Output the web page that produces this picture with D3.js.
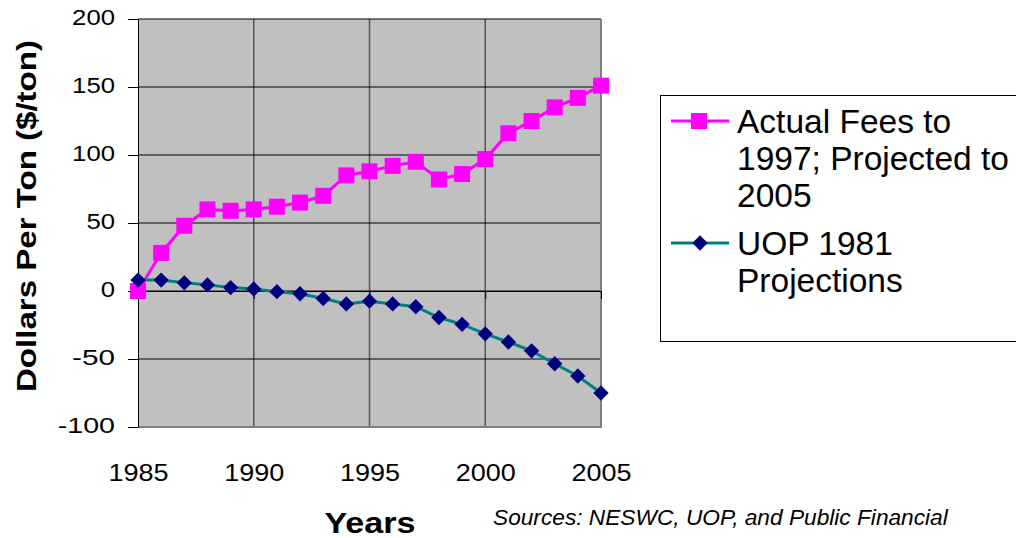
<!DOCTYPE html>
<html>
<head>
    <meta charset="utf-8">
    <script src="https://d3js.org/d3.v7.min.js"></script>
    <style>
        body { margin: 0; background: #fff; }
        text { font-family: "Liberation Sans", Arial, sans-serif; fill: #000; }
    </style>
</head>
<body>
<div id="chart"></div>

<script>
    // data
    var years = [1985, 1986, 1987, 1988, 1989, 1990, 1991, 1992, 1993, 1994, 1995,
                 1996, 1997, 1998, 1999, 2000, 2001, 2002, 2003, 2004, 2005];
    var actualFees = [0, 28, 48, 60, 59, 60, 62, 65, 70, 85, 88,
                      92, 95, 82, 86, 97, 116, 125, 135, 142, 151];
    var uopProjections = [8, 8, 6, 4.5, 2.5, 1.5, -0.5, -2, -5.5, -9.5, -7.5,
                          -9.5, -11.5, -19.5, -24.5, -31.5, -37.5, -44, -53.5, -62.5, -75];
    var yTicks = [-100, -50, 0, 50, 100, 150, 200];
    var xTicks = [1985, 1990, 1995, 2000, 2005];
    var seriesNames = [["Actual Fees to", "1997; Projected to", "2005"], ["UOP 1981", "Projections"]];

    var width = 1016, height = 538;
    var plot = { left: 138, right: 601, top: 19, bottom: 427 };

    var svg = d3.select("#chart").append("svg")
        .attr("width", width)
        .attr("height", height);

    var x = d3.scaleLinear().domain([1985, 2005]).range([plot.left, plot.right]);
    var y = d3.scaleLinear().domain([-100, 200]).range([plot.bottom, plot.top]);

    // plot area
    svg.append("rect")
        .attr("x", plot.left).attr("y", plot.top)
        .attr("width", plot.right - plot.left).attr("height", plot.bottom - plot.top)
        .attr("fill", "#c0c0c0");

    // vertical grid (gray)
    svg.append("g").selectAll("line")
        .data(xTicks.slice(1, -1))
        .enter().append("line")
        .attr("x1", function(d) { return x(d); }).attr("x2", function(d) { return x(d); })
        .attr("y1", plot.top).attr("y2", plot.bottom)
        .attr("stroke", "#555").attr("stroke-width", 1.5);

    // horizontal grid (black)
    svg.append("g").selectAll("line")
        .data(yTicks.filter(function(d) { return d > -100; }))
        .enter().append("line")
        .attr("x1", plot.left).attr("x2", plot.right)
        .attr("y1", function(d) { return y(d); }).attr("y2", function(d) { return y(d); })
        .attr("stroke", "#000").attr("stroke-width", 1);

    // right + bottom border
    svg.append("path")
        .attr("d", "M" + plot.right + "," + plot.top + "V" + plot.bottom + "H" + plot.left)
        .attr("fill", "none").attr("stroke", "#808080").attr("stroke-width", 2);

    // y axis
    var yAxis = svg.append("g")
        .attr("transform", "translate(" + plot.left + ",0)")
        .call(d3.axisLeft(y).tickValues(yTicks).tickSize(10).tickPadding(13).tickSizeOuter(0)
            .tickFormat(function(d) { return String(d); }));
    yAxis.select(".domain").attr("stroke", "#000");
    yAxis.selectAll("line").attr("stroke", "#000");
    yAxis.selectAll("text")
        .attr("font-size", 22).attr("dy", "0.25em")
        .attr("font-family", "Liberation Sans, Arial, sans-serif")
        .attr("textLength", function(d) { return String(d).length * 14.3; })
        .attr("lengthAdjust", "spacingAndGlyphs");

    // x axis through zero with ticks
    var xAxis = svg.append("g")
        .attr("transform", "translate(0," + y(0) + ")")
        .call(d3.axisBottom(x).tickValues(xTicks).tickSize(8).tickSizeOuter(0).tickFormat(""));
    xAxis.select(".domain").attr("stroke", "#000");
    xAxis.selectAll("line").attr("stroke", "#000");

    // x tick labels below the plot
    var xLabels = svg.append("g")
        .attr("transform", "translate(0," + plot.bottom + ")")
        .call(d3.axisBottom(x).tickValues(xTicks).tickSize(0).tickFormat(d3.format("d")));
    xLabels.select(".domain").remove();
    xLabels.selectAll("text")
        .attr("font-size", 24).attr("y", 54).attr("dy", 0)
        .attr("font-family", "Liberation Sans, Arial, sans-serif")
        .attr("textLength", 60)
        .attr("lengthAdjust", "spacingAndGlyphs");

    var line = d3.line()
        .x(function(d) { return x(d[0]); })
        .y(function(d) { return y(d[1]); });

    var fees = years.map(function(yr, i) { return [yr, actualFees[i]]; });
    var uop = years.map(function(yr, i) { return [yr, uopProjections[i]]; });

    // actual fees
    svg.append("path").datum(fees)
        .attr("d", line).attr("fill", "none")
        .attr("stroke", "#ff00ff").attr("stroke-width", 3);
    svg.append("g").selectAll("rect")
        .data(fees).enter().append("rect")
        .attr("x", function(d) { return x(d[0]) - 8; })
        .attr("y", function(d) { return y(d[1]) - 8; })
        .attr("width", 16).attr("height", 16)
        .attr("fill", "#ff00ff");

    // UOP projections
    var diamond = d3.symbol().type(d3.symbolDiamond2).size(150);
    svg.append("path").datum(uop)
        .attr("d", line).attr("fill", "none")
        .attr("stroke", "#008080").attr("stroke-width", 3);
    svg.append("g").selectAll("path")
        .data(uop).enter().append("path")
        .attr("d", diamond)
        .attr("transform", function(d) { return "translate(" + x(d[0]) + "," + y(d[1]) + ")"; })
        .attr("fill", "#000080");

    // axis titles
    svg.append("text")
        .attr("transform", "translate(36,216) rotate(-90)")
        .attr("text-anchor", "middle")
        .attr("font-size", 28).attr("font-weight", "bold")
        .attr("textLength", 352).attr("lengthAdjust", "spacingAndGlyphs")
        .text("Dollars Per Ton ($/ton)");

    svg.append("text")
        .attr("x", 370).attr("y", 533)
        .attr("text-anchor", "middle")
        .attr("font-size", 30).attr("font-weight", "bold")
        .attr("textLength", 91).attr("lengthAdjust", "spacingAndGlyphs")
        .text("Years");

    svg.append("text")
        .attr("x", 493).attr("y", 525)
        .attr("font-size", 22.7).attr("font-style", "italic")
        .text("Sources: NESWC, UOP, and Public Financial");

    // legend
    var legend = svg.append("g");
    legend.append("rect")
        .attr("x", 660.5).attr("y", 95.5)
        .attr("width", 400).attr("height", 246)
        .attr("fill", "#fff").attr("stroke", "#000");

    var legendY = [121, 243];
    var colors = [["#ff00ff", "#ff00ff"], ["#008080", "#000080"]];
    seriesNames.forEach(function(lines, i) {
        var g = legend.append("g").attr("transform", "translate(0," + legendY[i] + ")");
        g.append("line")
            .attr("x1", 671).attr("x2", 729)
            .attr("stroke", colors[i][0]).attr("stroke-width", 3);
        if (i === 0) {
            g.append("rect").attr("x", 691).attr("y", -8).attr("width", 16).attr("height", 16)
                .attr("fill", colors[i][1]);
        } else {
            g.append("path").attr("d", diamond)
                .attr("transform", "translate(700,0)")
                .attr("fill", colors[i][1]);
        }
        var t = g.append("text").attr("x", 737).attr("y", 12).attr("font-size", 33.5);
        lines.forEach(function(s, j) {
            t.append("tspan").attr("x", 737).attr("dy", j === 0 ? 0 : 37).text(s);
        });
    });
</script>
</body>
</html>
